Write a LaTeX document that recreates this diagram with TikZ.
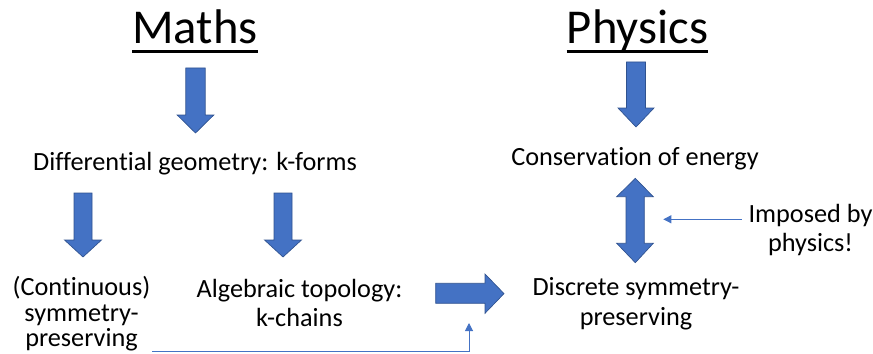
\documentclass[tikz,border=0pt]{standalone}
\usepackage{fontspec}
\setmainfont{Carlito}[Ligatures={NoCommon,NoContextual}]
\usetikzlibrary{arrows.meta}
\definecolor{accent}{HTML}{4472C4}
\definecolor{accentdark}{HTML}{2F528F}
\newcommand{\downblock}[6]{%
  \path[blockarrow] (#1-#2,#4) -- (#1+#2,#4) -- (#1+#2,#5) -- (#1+#3,#5) -- (#1,#6) -- (#1-#3,#5) -- (#1-#2,#5) -- cycle;}
\begin{document}
\begin{tikzpicture}[x=0.75pt,y=-0.75pt,
  title/.style={font=\fontsize{36.5}{40}\selectfont, anchor=base, inner sep=0pt},
  body/.style={font=\fontsize{19.7}{21.8}\selectfont, anchor=base, align=center, inner sep=0pt},
  blockarrow/.style={fill=accent, draw=accentdark, line width=0.5pt, line join=miter},
  connector/.style={draw=accent, line width=0.75pt, -{Triangle[length=6pt,width=6pt]}},
  underl/.style={line width=2pt}
]
\useasboundingbox (0,0) rectangle (873,353);
\clip (0,0) rectangle (873,353);
% titles
\node[title] (maths) at (195,43.3) {Maths};
\node[title] (physics) at (637.5,43.3) {Physics};
\draw[underl] ([yshift=-6pt]maths.base west) -- ([yshift=-6pt]maths.base east);
\draw[underl] ([yshift=-6pt]physics.base west) -- ([yshift=-6pt]physics.base east);
% texts (multi-line nodes: base = baseline of last line)
\node[body] (diffgeo) at (195,170) {Differential geometry: k-forms};
\node[body] (energy) at (635,165) {Conservation of energy};
\node[body, font=\fontsize{19.7}{19.3}\selectfont] (cont) at (81.5,346.8) {(Continuous)\\symmetry-\\preserving};
\node[body] (algtop) at (299.5,326.7) {Algebraic topology:\\k-chains};
\node[body] (discrete) at (636,325) {Discrete symmetry-\\preserving};
\node[body] (imposed) at (810.5,251.7) {Imposed by\\physics!};
% block arrows
\downblock{195.5}{9.7}{18.3}{68}{115}{133}
\downblock{636}{9.5}{18}{62}{108}{127}
\downblock{83}{9}{18.5}{193}{240}{257}
\downblock{283}{9}{18.5}{193}{240}{257}
% double arrow
\path[blockarrow] (635.3,178.3) -- (653.3,196.7) -- (644.3,196.7) -- (644.3,243.3) -- (653.3,243.3)
  -- (635.3,262.7) -- (616.7,243.3) -- (626,243.3) -- (626,196.7) -- (616.7,196.7) -- cycle;
% right arrow
\path[blockarrow] (435.7,283.3) -- (485,283.3) -- (485,274) -- (504,293.6) -- (485,313.3)
  -- (485,303.3) -- (435.7,303.3) -- cycle;
% thin connectors
\coordinate (contend) at (152,351.5);
\coordinate (rightin) at (469,323);
\draw[connector] (contend) -| (rightin);
\coordinate (impstart) at (741.7,219.3);
\coordinate (imptip) at (663.3,219.3);
\draw[connector] (impstart) -- (imptip);
\end{tikzpicture}
\end{document}
